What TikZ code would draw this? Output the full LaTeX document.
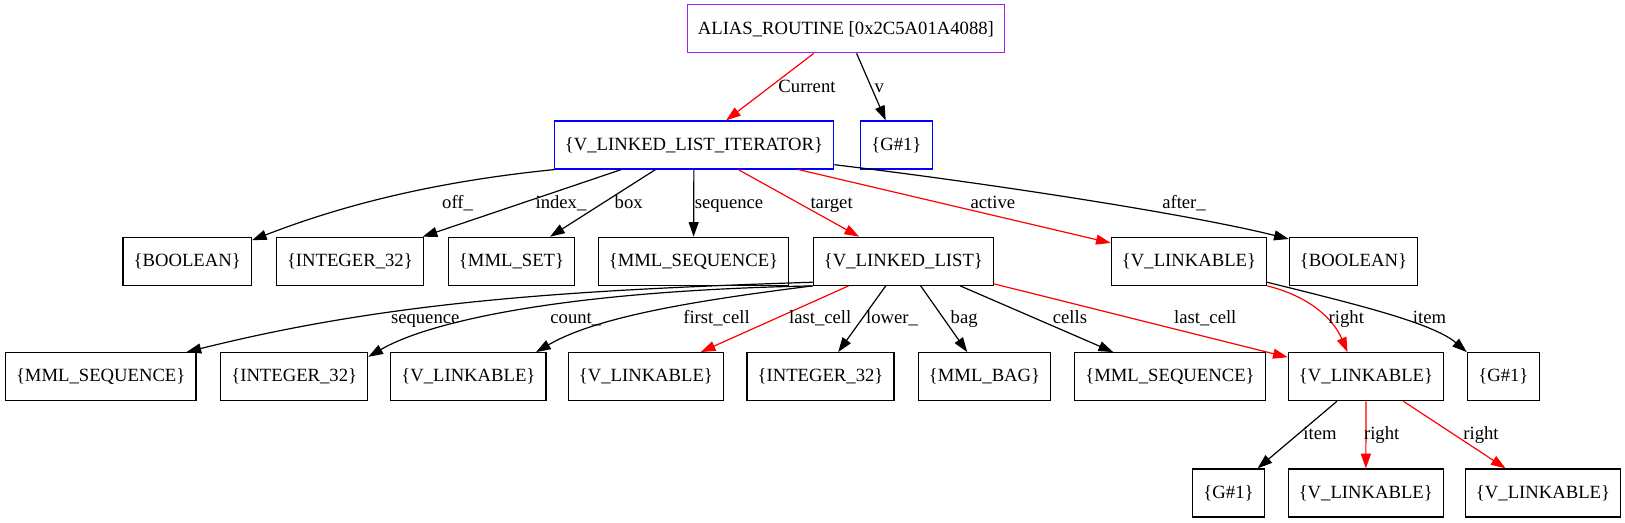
\documentclass[tikz,border=0pt]{standalone}
\usepackage{fontspec}
\setmainfont{Liberation Serif}
\usetikzlibrary{arrows.meta}

\definecolor{gvpurple}{HTML}{A020F0}

\begin{document}
\begin{tikzpicture}[
    x=0.75pt, y=0.75pt,
    font=\fontsize{14}{17}\selectfont,
    >={Triangle[length=11pt, width=7.5pt]},
    objbox/.style={rectangle, draw, line width=0.9pt, minimum width=54pt, minimum height=36pt, inner xsep=8pt, inner ysep=0pt},
    rootbox/.style={objbox, draw=gvpurple},
    topbox/.style={objbox, draw=blue},
    lbl/.style={anchor=base, inner sep=0pt},
    arrow/.style={->, line width=0.9pt},
    red_arrow/.style={->, line width=0.9pt, red}
]
\useasboundingbox (0,0) rectangle (1625,523);

% Nodes
\node[rootbox] (alias) at (845.9,494.2) {ALIAS\_ROUTINE [0x2C5A01A4088]};

\node[topbox] (iterator) at (694,378) {\{V\_LINKED\_LIST\_ITERATOR\}};
\node[topbox] (gen_v) at (896.4,378) {\{G\#1\}};

\node[objbox] (off_bool) at (187.2,261.7) {\{BOOLEAN\}};
\node[objbox] (index_int) at (349.9,261.7) {\{INTEGER\_32\}};
\node[objbox] (box_set) at (511.5,261.7) {\{MML\_SET\}};
\node[objbox] (seq_a) at (693.5,261.7) {\{MML\_SEQUENCE\}};
\node[objbox] (list) at (903.4,261.7) {\{V\_LINKED\_LIST\}};
\node[objbox] (active_link) at (1189,261.7) {\{V\_LINKABLE\}};
\node[objbox] (after_bool) at (1353.5,261.7) {\{BOOLEAN\}};

\node[objbox] (seq_b) at (100.7,146.3) {\{MML\_SEQUENCE\}};
\node[objbox] (count_int) at (294.2,146.3) {\{INTEGER\_32\}};
\node[objbox] (first_link) at (468.4,146.3) {\{V\_LINKABLE\}};
\node[objbox] (last_link) at (645.9,146.3) {\{V\_LINKABLE\}};
\node[objbox] (lower_int) at (820.5,146.3) {\{INTEGER\_32\}};
\node[objbox] (bag) at (984.5,146.3) {\{MML\_BAG\}};
\node[objbox] (cells_seq) at (1170,146.3) {\{MML\_SEQUENCE\}};
\node[objbox] (right_link) at (1366,146.3) {\{V\_LINKABLE\}};
\node[objbox] (item_gen) at (1503.4,146.3) {\{G\#1\}};

\node[objbox] (item_gen_b) at (1228.5,30) {\{G\#1\}};
\node[objbox] (right_link_b) at (1365.8,30) {\{V\_LINKABLE\}};
\node[objbox] (right_link_c) at (1543,30) {\{V\_LINKABLE\}};

% Connections
\draw[red_arrow] (alias) -- (iterator);
\draw[arrow] (alias) -- (gen_v);

\draw[arrow] (iterator.190.5) .. controls +(-120,-12) and +(90,35) .. (off_bool.18);
\draw[arrow] (iterator) -- (index_int);
\draw[arrow] (iterator) -- (box_set);
\draw[arrow] (iterator) -- (seq_a);
\draw[red_arrow] (iterator) -- (list);
\draw[red_arrow] (iterator) -- (active_link);
\draw[arrow] (iterator.-8.7) .. controls +(150,-18) and +(-100,25) .. (after_bool.161.6);

\draw[arrow] (list.193.7) .. controls +(-250,-8) and +(200,50) .. (seq_b.16.3);
\draw[arrow] (list.south west) .. controls +(-250,-5) and +(60,35) .. (count_int.15);
\draw[arrow] (list.south west) .. controls +(-120,-15) and +(60,35) .. (first_link.20);
\draw[red_arrow] (list) -- (last_link);
\draw[arrow] (list) -- (lower_int);
\draw[arrow] (list) -- (bag);
\draw[arrow] (list) -- (cells_seq);
\draw[red_arrow] (list) -- (right_link);

\draw[red_arrow] (active_link.south east) .. controls +(40,-10) and +(-15,35) .. (right_link.127.8);
\draw[arrow] (active_link.-15.6) .. controls +(80,-20) and +(-35,30) .. (item_gen.north west);

\draw[arrow] (right_link) -- (item_gen_b);
\draw[red_arrow] (right_link) -- (right_link_b);
\draw[red_arrow] (right_link) -- (right_link_c);

% Edge labels
\node[lbl] (l_current) at (807,430.7) {Current};
\node[lbl] (l_v) at (879.3,430.7) {v};

\node[lbl] (l_off) at (457.6,314.7) {off\_};
\node[lbl] (l_index) at (561,314.7) {index\_};
\node[lbl] (l_box) at (628.7,314.7) {box};
\node[lbl] (l_seq_a) at (729,314.7) {sequence};
\node[lbl] (l_target) at (831.6,314.7) {target};
\node[lbl] (l_active) at (992.9,314.7) {active};
\node[lbl] (l_after) at (1184,314.7) {after\_};

\node[lbl] (l_seq_b) at (425.2,199) {sequence};
\node[lbl] (l_count) at (575.8,199) {count\_};
\node[lbl] (l_first) at (716.5,199) {first\_cell};
\node[lbl] (l_last_a) at (820.2,199) {last\_cell};
\node[lbl] (l_lower) at (892.1,199) {lower\_};
\node[lbl] (l_bag) at (964.2,199) {bag};
\node[lbl] (l_cells) at (1070,199) {cells};
\node[lbl] (l_last_b) at (1205.3,199) {last\_cell};
\node[lbl] (l_right_a) at (1346.3,199) {right};
\node[lbl] (l_item_a) at (1429.5,199) {item};

\node[lbl] (l_item_b) at (1320,83) {item};
\node[lbl] (l_right_b) at (1381.7,83) {right};
\node[lbl] (l_right_c) at (1481,83) {right};

\end{tikzpicture}
\end{document}
